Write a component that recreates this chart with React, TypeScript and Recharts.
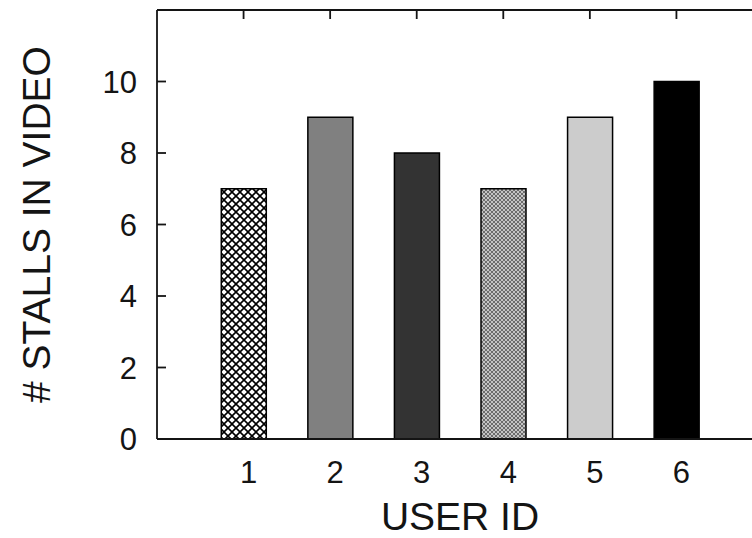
import { BarChart, Bar, XAxis, YAxis, Cell } from 'recharts';

const userIds = [1, 2, 3, 4, 5, 6];
const stalls = [7, 9, 8, 7, 9, 10];
const yTicks = [0, 2, 4, 6, 8, 10];
const xTicks = [1, 2, 3, 4, 5, 6];
const xDomain = [0, 7];
const yDomain = [0, 12];

// one fill per user, gnuplot-like greys and hatches
const barFills = ['url(#hatchWide)', '#808080', '#333333', 'url(#hatchFine)', '#cccccc', '#000000'];

const data = userIds.map((id, i) => ({ id, stalls: stalls[i] }));

const ink = '#141414';
const font = '"Liberation Sans", Arial, Helvetica, sans-serif';

// chart geometry (plot box follows from these)
const chartW = 800;
const chartH = 538;
const margin = { top: 10, right: 37, bottom: 0, left: 0 };
const yAxisW = 157;
const xAxisH = 99;
const plot = {
  left: margin.left + yAxisW,
  right: chartW - margin.right,
  top: margin.top,
  bottom: chartH - margin.bottom - xAxisH,
};
const sx = (v: number) => plot.left + ((v - xDomain[0]) / (xDomain[1] - xDomain[0])) * (plot.right - plot.left);
const sy = (v: number) => plot.bottom - ((v - yDomain[0]) / (yDomain[1] - yDomain[0])) * (plot.bottom - plot.top);

function BottomTick({ x, y, payload }: any) {
  return (
    <text x={x + 5} y={y + 44} textAnchor="middle" fontSize={31} fill={ink} fontFamily={font}>
      {payload.value}
    </text>
  );
}

function LeftTick({ x, y, payload }: any) {
  return (
    <text x={x - 20} y={y + 11} textAnchor="end" fontSize={31} fill={ink} fontFamily={font}>
      {payload.value}
    </text>
  );
}

// gnuplot style frame: top border + inward ticks
function Frame() {
  return (
    <svg
      width={chartW}
      height={chartH}
      style={{ position: 'absolute', left: 0, top: 0, pointerEvents: 'none' }}
    >
      <line x1={plot.left} x2={plot.right} y1={plot.top} y2={plot.top} stroke={ink} strokeWidth={1.8} />
      <line x1={plot.right} x2={plot.right} y1={plot.top} y2={plot.bottom} stroke={ink} strokeWidth={1.8} />
      {xTicks.map((t) => (
        <line key={`xt${t}`} x1={sx(t)} x2={sx(t)} y1={plot.top} y2={plot.top + 9} stroke={ink} strokeWidth={1.8} />
      ))}
      {yTicks.slice(1).map((t) => (
        <line key={`yt${t}`} x1={plot.left} x2={plot.left + 9} y1={sy(t)} y2={sy(t)} stroke={ink} strokeWidth={1.8} />
      ))}
    </svg>
  );
}

export default function App() {
  return (
    <div style={{ position: 'absolute', left: 0, top: 0, width: 752, height: 538, overflow: 'hidden', background: '#fff' }}>
      <svg width={0} height={0} style={{ position: 'absolute' }}>
        <defs>
          <pattern id="hatchWide" width={8} height={8} patternUnits="userSpaceOnUse">
            <rect width={8} height={8} fill="#fff" />
            <path d="M0,0 L8,8 M8,0 L0,8" stroke="#000" strokeWidth={1.6} />
          </pattern>
          <pattern id="hatchFine" width={4} height={4} patternUnits="userSpaceOnUse">
            <rect width={4} height={4} fill="#c4c4c4" />
            <path d="M0,0 L4,4 M4,0 L0,4" stroke="#555" strokeWidth={0.8} />
          </pattern>
        </defs>
      </svg>
      <BarChart width={chartW} height={chartH} data={data} margin={margin} style={{ fontFamily: font }}>
        <XAxis
          dataKey="id"
          type="number"
          domain={xDomain}
          ticks={xTicks}
          allowDataOverflow
          height={xAxisH}
          tickSize={0}
          tickMargin={0}
          tick={<BottomTick />}
          axisLine={{ stroke: ink, strokeWidth: 1.8 }}
          label={{ value: 'USER ID', position: 'center', dy: 28, fontSize: 39, fill: ink, fontFamily: font }}
        />
        <YAxis
          type="number"
          domain={yDomain}
          ticks={yTicks}
          allowDataOverflow
          width={yAxisW}
          tickSize={0}
          tickMargin={0}
          tick={<LeftTick />}
          axisLine={{ stroke: ink, strokeWidth: 1.8 }}
          label={{ value: '# STALLS IN VIDEO', angle: -90, position: 'center', dx: -42, fontSize: 39, fill: ink, fontFamily: font }}
        />
        <Bar dataKey="stalls" barSize={45} stroke="#000" strokeWidth={1.5} isAnimationActive={false}>
          {data.map((d, i) => (
            <Cell key={d.id} fill={barFills[i]} />
          ))}
        </Bar>
      </BarChart>
      <Frame />
    </div>
  );
}
